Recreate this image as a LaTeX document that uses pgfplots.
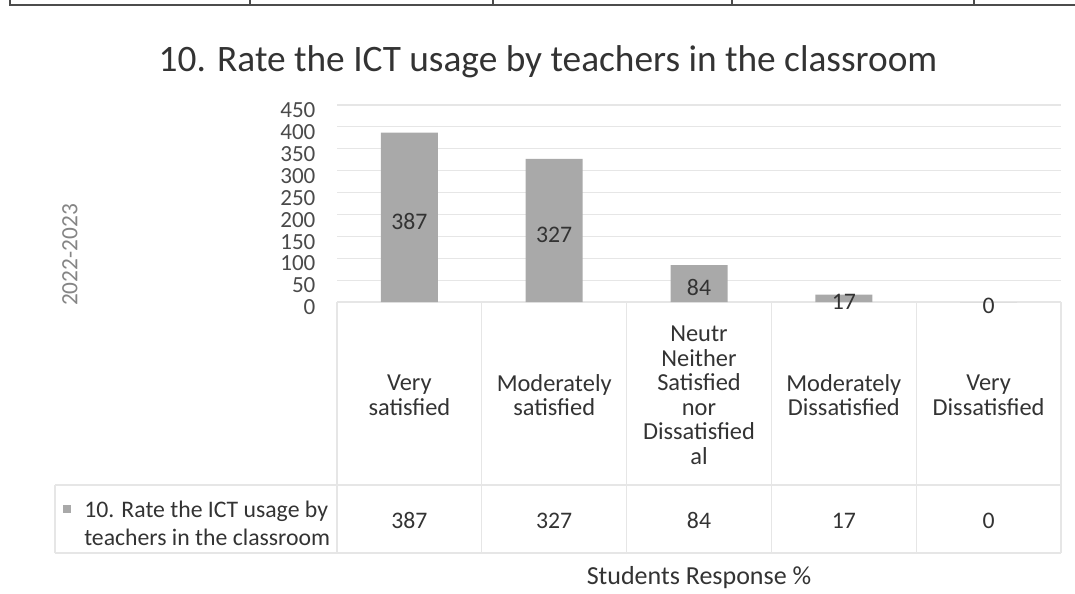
\documentclass[border=0pt]{standalone}
\usepackage{pgfplots}
\pgfplotsset{compat=1.18}
\usepackage{pgfplotstable}
\usepackage{fontspec}
\setmainfont{Carlito}
\definecolor{barGray}{HTML}{A9A9A9}
\definecolor{gridGray}{HTML}{E6E6E6}
\definecolor{txt}{HTML}{333333}
\definecolor{tickc}{HTML}{4A4A4A}
\definecolor{axtitle}{HTML}{858585}

\pgfplotstableread{
x v
0 387
1 327
2 84
3 17
4 0
}\data

\begin{document}
\begin{tikzpicture}[x=0.75pt,y=-0.75pt]
\useasboundingbox (0,0) rectangle (1075,593);
% border of the document table at the top
\draw[black!70, line width=0.8pt] (9,5) -- (1075,5);
\foreach \xx in {10,250,493,732,974} \draw[black!70, line width=0.8pt] (\xx,0) -- (\xx,5);

% data table grid
\foreach \xx in {337,481.8,626.6,771.4,916.2,1061} \draw[gridGray, line width=0.8pt] (\xx,302) -- (\xx,553);
\draw[gridGray, line width=0.8pt] (55,485) -- (1061,485);
\draw[gridGray, line width=0.8pt] (55,553) -- (1061,553);
\draw[gridGray, line width=0.8pt] (55,485) -- (55,553);

\coordinate (O) at (337,302);
\begin{axis}[
  at={(O)}, anchor=south west, scale only axis,
  width=543pt, height=147.75pt,
  xmin=-0.5, xmax=4.5, ymin=0, ymax=450,
  clip=false,
  axis line style={draw=none}, major tick length=0pt,
  ymajorgrids, grid style={gridGray, line width=0.8pt},
  ytick={0,50,...,450},
  yticklabel style={font=\fontsize{17.3}{18}\selectfont, text=tickc, anchor=east, inner sep=0pt, xshift=-16pt, yshift=-4pt},
  xtick={0,1,2,3,4},
  xticklabels={{Very\\satisfied},{Moderately\\satisfied},{Neutr\\Neither\\Satisfied\\nor\\Dissatisfied\\al},{Moderately\\Dissatisfied},{Very\\Dissatisfied}},
  xticklabel style={font=\fontsize{18.3}{18.4}\selectfont, text=txt, align=center, anchor=center, yshift=-70pt},
  /pgf/number format/assume math mode=true,
]
\addplot[ybar, bar width=42.75pt, fill=barGray, draw=none] table[x=x, y=v]{\data};
\addplot[draw=none, mark=none, nodes near coords, point meta=explicit,
  nodes near coords style={anchor=center, yshift=-3pt, font=\fontsize{17.8}{20}\selectfont, text=txt}]
  table[x=x, y expr=\thisrow{v}/2, meta=v]{\data};
\addplot[draw=none, mark=none, nodes near coords, point meta=explicit,
  nodes near coords style={anchor=center, yshift=-164pt, font=\fontsize{17.8}{20}\selectfont, text=txt}]
  table[x=x, y expr=0, meta=v]{\data};
\end{axis}

% legend cell of the data table
\fill[barGray] (63,505) rectangle (71,513);
\node[anchor=west, align=left, inner sep=0pt, font=\fontsize{17.8}{21}\selectfont, text=txt] at (84,523) {10. Rate the ICT usage by\\teachers in the classroom};

% titles
\node[font=\fontsize{28}{34}\selectfont, text=txt] at (548,62) {10. Rate the ICT usage by teachers in the classroom};
\node[font=\fontsize{19.5}{24}\selectfont, text=txt] at (699,578) {Students Response \%};
\node[rotate=90, font=\fontsize{17.5}{20}\selectfont, text=axtitle] at (70,255) {2022-2023};
\end{tikzpicture}
\end{document}
